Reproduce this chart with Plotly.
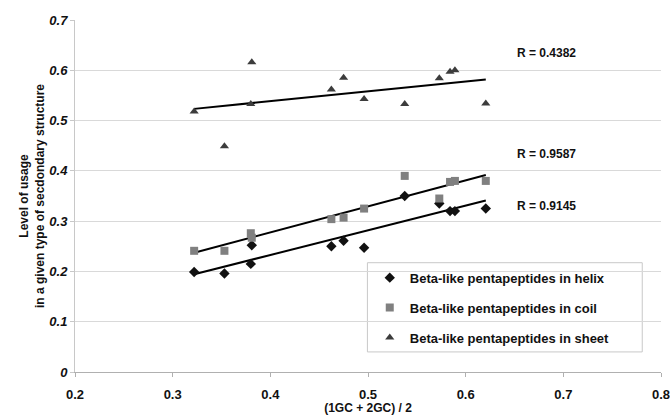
import numpy as np
import plotly.graph_objects as go

# Data
x_vals = [0.322, 0.353, 0.380, 0.381, 0.4625, 0.475, 0.496, 0.5376, 0.573, 0.584, 0.589, 0.6206]
helix = [0.199, 0.196, 0.215, 0.252, 0.250, 0.261, 0.247, 0.350, 0.335, 0.320, 0.320, 0.325]
coil = [0.241, 0.241, 0.276, 0.267, 0.304, 0.307, 0.325, 0.390, 0.345, 0.378, 0.380, 0.380]
sheet = [0.518, 0.449, 0.533, 0.616, 0.562, 0.585, 0.543, 0.533, 0.584, 0.597, 0.600, 0.534]

names = ["Beta-like pentapeptides in helix",
         "Beta-like pentapeptides in coil",
         "Beta-like pentapeptides in sheet"]
r_labels = ["R = 0.9145", "R = 0.9587", "R = 0.4382"]
r_label_y = [0.331, 0.433, 0.634]

x_ticks = [0.2, 0.3, 0.4, 0.5, 0.6, 0.7, 0.8]
y_ticks = [0, 0.1, 0.2, 0.3, 0.4, 0.5, 0.6, 0.7]

FONT = "Arial, Liberation Sans, sans-serif"
series = [helix, coil, sheet]
symbols = ["diamond", "square", "triangle-up"]
colors = ["#111111", "#808080", "#3c3c3c"]
sizes = [8, 8, 8]

fig = go.Figure()
xs = np.array(x_vals)
for i, ys in enumerate(series):
    slope, icpt = np.polyfit(xs, np.array(ys), 1)
    xl = [xs.min(), xs.max()]
    fig.add_trace(go.Scatter(
        x=xl, y=[slope * v + icpt for v in xl], mode="lines",
        line=dict(color="black", width=2), showlegend=False, hoverinfo="skip"))
for i, ys in enumerate(series):
    fig.add_trace(go.Scatter(
        x=x_vals, y=ys, mode="markers", name=names[i], legendgroup=str(i),
        marker=dict(symbol=symbols[i], color=colors[i], size=sizes[i],
                    line=dict(width=0))))

for lab, ly in zip(r_labels, r_label_y):
    fig.add_annotation(x=0.651, y=ly, text=lab, showarrow=False, xanchor="left",
                       yanchor="middle", font=dict(family=FONT, size=12, color="#111", weight="bold"))

# legend frame
fig.add_shape(type="rect", xref="paper", yref="paper",
              x0=0.499, x1=0.968, y0=0.057, y1=0.3105,
              line=dict(color="#c8c8c8", width=1), fillcolor="white", layer="below")

fig.update_layout(
    width=670, height=415, paper_bgcolor="white", plot_bgcolor="white",
    margin=dict(l=75, r=9, t=20, b=43, autoexpand=False),
    font=dict(family=FONT, color="#111"),
    legend=dict(x=0.503, y=0.3105, xanchor="left", yanchor="top",
                borderwidth=0, bgcolor="rgba(0,0,0,0)",
                font=dict(family=FONT, size=13, color="#111", weight="bold"),
                tracegroupgap=10, itemwidth=30),
    xaxis=dict(range=[0.2, 0.8], tickvals=x_ticks, ticktext=[f"{v:.1f}" for v in x_ticks],
               showgrid=False, zeroline=False, showline=True, linecolor="#b0b0b0",
               ticks="outside", ticklen=4, tickcolor="#b0b0b0", ticklabelstandoff=6,
               ticklabeloverflow="allow", automargin=False,
               tickfont=dict(family=FONT, size=13, color="#111", weight="bold"),
               title=dict(text="(1GC + 2GC) / 2", standoff=0,
                          font=dict(family=FONT, size=12, color="#111", weight="bold"))),
    yaxis=dict(range=[0, 0.7], tickvals=y_ticks,
               ticktext=["0" if v == 0 else f"{v:.1f}" for v in y_ticks],
               showgrid=True, gridcolor="#d9d9d9", gridwidth=1, zeroline=False,
               showline=True, linecolor="#c8c8c8", automargin=False,
               ticks="outside", ticklen=4, tickcolor="#c8c8c8",
               tickfont=dict(family=FONT, size=13, color="#111", weight="bold", style="italic"),
               title=dict(text="Level of usage<br>in a given type of secdondary structure", standoff=2,
                          font=dict(family=FONT, size=12, color="#111", weight="bold"))),
)

fig.write_html("out.html")
